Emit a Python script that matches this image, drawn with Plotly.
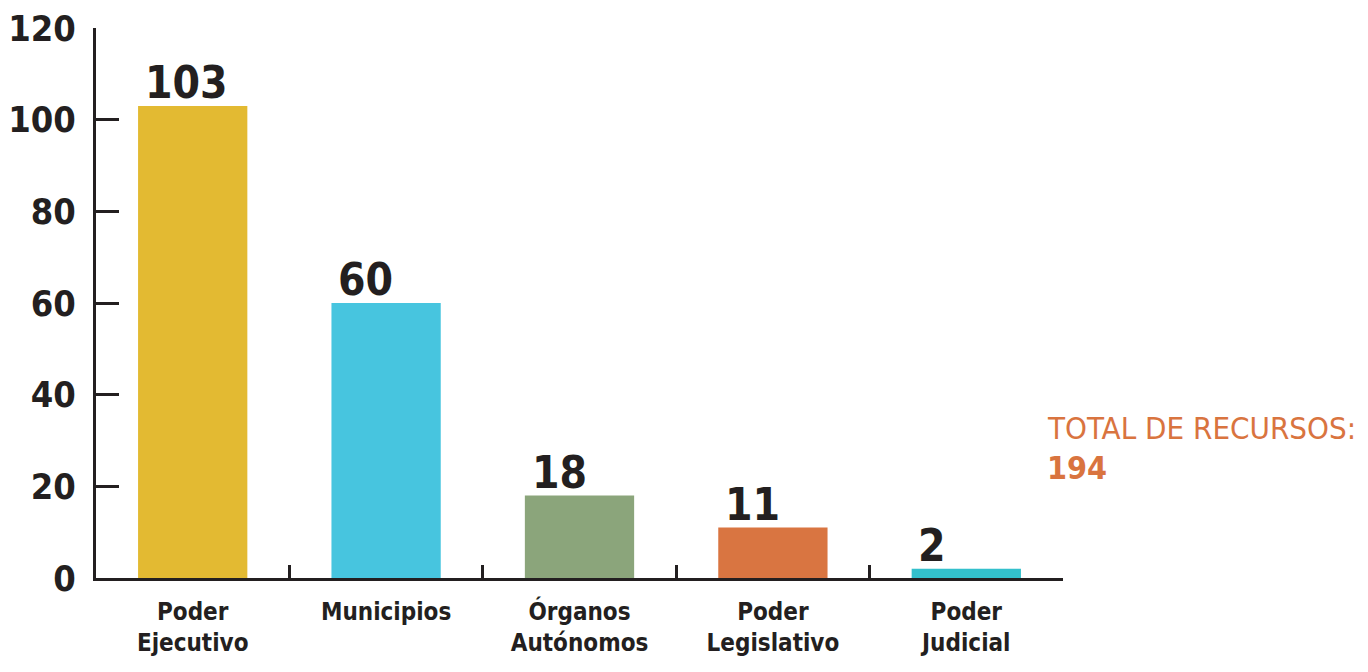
import plotly.graph_objects as go

categories = ["Poder<br>Ejecutivo", "Municipios", "Órganos<br>Autónomos", "Poder<br>Legislativo", "Poder<br>Judicial"]
values = [103, 60, 18, 11, 2]
bar_colors = ["#E3BA32", "#47C5DF", "#8BA57B", "#D97541", "#33C0CC"]
y_ticks = [0, 20, 40, 60, 80, 100, 120]
total_label = "TOTAL DE RECURSOS:"
total_value = 194

FONT = "DejaVu Sans Condensed, Liberation Sans Narrow, DejaVu Sans"
INK = "#231F20"
ORANGE = "#D9743F"

fig = go.Figure()
fig.add_trace(go.Bar(
    x=categories, y=values, marker=dict(color=bar_colors, line=dict(width=0)),
    width=0.565, hoverinfo="skip", showlegend=False,
))

for c, v in zip(categories, values):
    fig.add_annotation(
        x=c, y=v, xref="x", yref="y", text=str(v), showarrow=False,
        xanchor="left", yanchor="bottom", xshift=-50, yshift=-4,
        font=dict(family=FONT, size=44, color=INK, weight="bold"),
    )

fig.add_annotation(
    x=1.0, y=(580 - 430) / 550, xref="paper", yref="paper", showarrow=False,
    text=total_label, xanchor="left", yanchor="middle", xshift=-18,
    font=dict(family=FONT, size=31, color=ORANGE, weight=300),
)
fig.add_annotation(
    x=1.0, y=(580 - 470) / 550, xref="paper", yref="paper", showarrow=False,
    text=str(total_value), xanchor="left", yanchor="middle", xshift=-18,
    font=dict(family=FONT, size=32, color=ORANGE, weight="bold"),
)

fig.update_layout(
    width=1368, height=672,
    margin=dict(l=88, r=313, t=20, b=102, autoexpand=False),
    paper_bgcolor="white", plot_bgcolor="white",
    bargap=0.435,
    xaxis=dict(
        showline=True, linecolor=INK, linewidth=3, automargin=False,
        ticks="inside", ticklen=13, tickwidth=3, tickcolor=INK,
        tickson="boundaries", showgrid=False,
        ticklabelstandoff=10,
        tickfont=dict(family=FONT, size=24, color=INK, weight="bold"),
    ),
    yaxis=dict(
        range=[0, 120.05], tickvals=y_ticks, automargin=False,
        showline=True, linecolor=INK, linewidth=3,
        ticks="inside", ticklen=23, tickwidth=3, tickcolor=INK,
        showgrid=False, zeroline=False,
        ticklabelstandoff=10, ticklabeloverflow="allow",
        tickfont=dict(family=FONT, size=36, color=INK, weight="bold"),
    ),
)

fig.write_html("out.html")
